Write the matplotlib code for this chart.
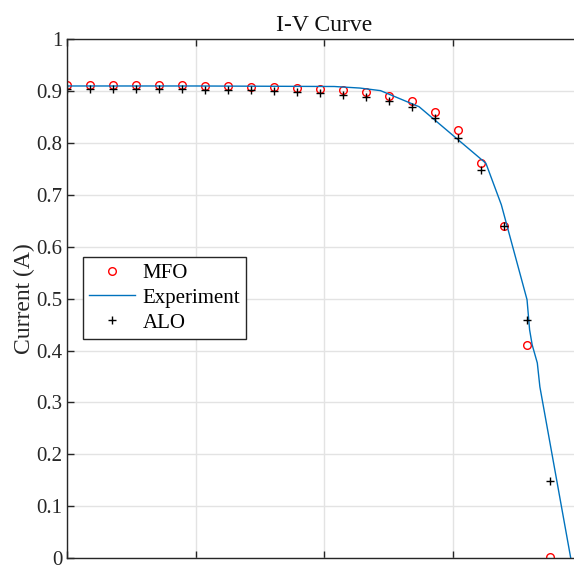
import numpy as np
import matplotlib
matplotlib.use("Agg")
import matplotlib.pyplot as plt

# measured data (voltage, current)
v_pts = [0.0, 0.895, 1.79, 2.685, 3.58, 4.475, 5.37, 6.265, 7.16, 8.055, 8.95,
         9.845, 10.74, 11.635, 12.53, 13.425, 14.32, 15.215, 16.11, 17.005, 17.9, 18.795]
i_mfo = [0.912, 0.912, 0.912, 0.911, 0.911, 0.911, 0.910, 0.910, 0.909, 0.908, 0.906,
         0.905, 0.902, 0.898, 0.891, 0.881, 0.860, 0.825, 0.761, 0.640, 0.411, 0.001]
i_alo = [0.905, 0.905, 0.905, 0.904, 0.904, 0.904, 0.903, 0.903, 0.902, 0.901, 0.899,
         0.896, 0.893, 0.889, 0.882, 0.870, 0.848, 0.810, 0.748, 0.641, 0.459, 0.148]

v_exp = [0.0, 5.0, 10.4, 11.4, 12.2, 13.7, 16.3, 16.9, 17.9, 18.0, 18.1, 18.3, 18.4, 19.6]
i_exp = [0.910, 0.910, 0.909, 0.906, 0.901, 0.870, 0.761, 0.681, 0.498, 0.440, 0.411, 0.376, 0.330, 0.0]

plt.rcParams['font.family'] = ['Liberation Serif', 'DejaVu Serif']

fig = plt.figure(figsize=(5.74, 5.67), dpi=100)
W, H = 574, 567
ax = fig.add_axes([67 / W, 9 / H, (581 - 67) / W, (558 - 39.3) / H])

ax.plot(v_pts, i_mfo, 'o', mfc='none', mec='#ff0000', ms=5.5, mew=1.0, label='MFO')
ax.plot(v_exp, i_exp, '-', color='#0072BD', lw=1.0, label='Experiment')
ax.plot(v_pts, i_alo, '+', color='black', ms=6, mew=1.0, label='ALO')

ax.set_xlim(0, 20)
ax.set_ylim(0, 1)
ax.set_xticks([0, 5, 10, 15, 20])
ax.set_yticks(np.arange(0, 1.01, 0.1))
ax.set_yticklabels(['0', '0.1', '0.2', '0.3', '0.4', '0.5', '0.6', '0.7', '0.8', '0.9', '1'])
ax.tick_params(direction='in', top=True, right=True, labelsize=15, colors='#262626',
               length=5, width=1)
ax.tick_params(axis='x', labelbottom=False)
ax.grid(True, color='#e3e3e3', lw=1)
ax.set_axisbelow(True)
for s in ax.spines.values():
    s.set_color('#262626')
    s.set_linewidth(1)

ax.set_title('I-V Curve', fontsize=17, color='#111111', pad=6)
ax.set_ylabel('Current (A)', fontsize=17, color='#262626', labelpad=1)

leg = ax.legend(loc='upper left', bbox_to_anchor=(0.031, 0.58), fontsize=15,
                fancybox=False, edgecolor='#262626', framealpha=1,
                borderaxespad=0, handlelength=2.2, handletextpad=0.35,
                labelspacing=0.25, borderpad=0.3)
leg.get_frame().set_linewidth(1)

fig.savefig('out.png', dpi=100)
